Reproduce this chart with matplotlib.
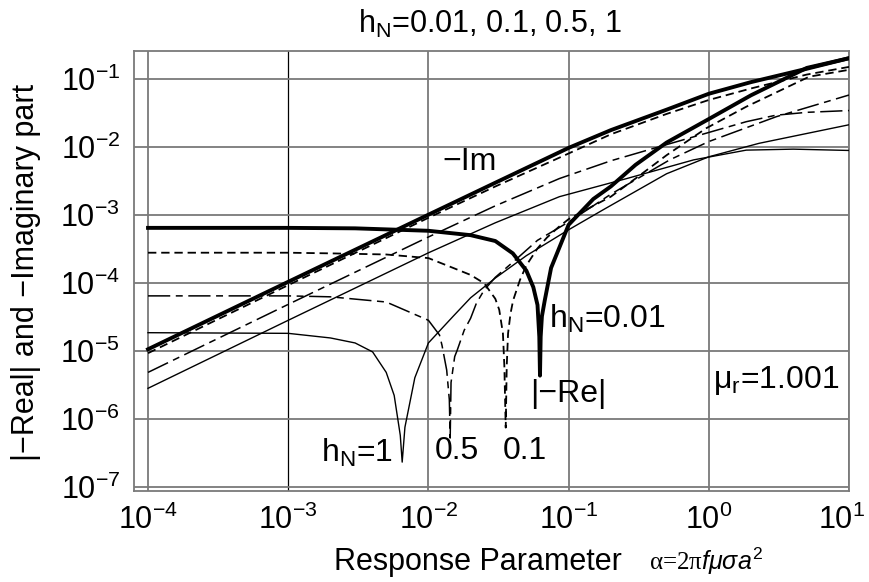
import matplotlib
matplotlib.use('Agg')
import matplotlib.pyplot as plt
from matplotlib.transforms import ScaledTranslation

plt.rcParams['font.family'] = ['Liberation Sans', 'DejaVu Sans']
plt.rcParams['mathtext.fontset'] = 'custom'
plt.rcParams['mathtext.rm'] = 'Liberation Sans'
plt.rcParams['mathtext.it'] = 'Liberation Sans:italic'
plt.rcParams['mathtext.default'] = 'regular'
plt.rcParams['lines.scale_dashes'] = False

# ---------------- data ----------------
# hN = 0.01  (thick solid)
a_im_001 = [1e-4, 1e-3, 1e-2, 0.03, 0.1, 0.2, 0.5, 1.0, 2.0, 5.0, 10.0]
im_001 = [1.05e-5, 1.03e-4, 1.0e-3, 2.95e-3, 9.6e-3, 0.0175, 0.035, 0.060, 0.089, 0.14, 0.20]
a_re_001 = [1e-4, 1e-3, 3e-3, 1e-2, 0.02, 0.03, 0.04, 0.05, 0.056, 0.06, 0.0618, 0.0625,
            0.0632, 0.0645, 0.0676, 0.075, 0.1, 0.15, 0.2, 0.3, 0.5, 1.0, 2.0, 5.0, 10.0]
re_001 = [6.4e-4, 6.4e-4, 6.3e-4, 5.8e-4, 5.0e-4, 4.1e-4, 2.7e-4, 1.5e-4, 8.6e-5, 4.7e-5, 1.6e-5, 4.3e-6,
          1.6e-5, 3.2e-5, 5.5e-5, 1.65e-4, 7.1e-4, 1.7e-3, 2.6e-3, 5.4e-3, 0.0115, 0.0255, 0.057, 0.144, 0.20]

# hN = 0.1  (short dashes)
a_im_01 = [1e-4, 1e-3, 1e-2, 0.03, 0.086, 0.2, 0.5, 1.0, 2.0, 5.0, 10.0]
im_01 = [9.2e-6, 9.2e-5, 9.0e-4, 2.6e-3, 6.9e-3, 0.0152, 0.0303, 0.0486, 0.0718, 0.115, 0.149]
a_re_01 = [1e-4, 1e-3, 2e-3, 5e-3, 1e-2, 0.015, 0.02, 0.025, 0.03, 0.032, 0.034, 0.0348, 0.0356,
           0.0362, 0.037, 0.0385, 0.0402, 0.045, 0.05, 0.06, 0.07, 0.085, 0.1, 0.15, 0.2, 0.3, 0.5,
           0.96, 1.85, 5.2, 10.0]
re_01 = [2.76e-4, 2.76e-4, 2.7e-4, 2.6e-4, 2.3e-4, 1.65e-4, 1.3e-4, 9.8e-5, 5.8e-5, 4.0e-5, 1.8e-5, 6e-6, 7.4e-7,
         6e-6, 1.8e-5, 3.5e-5, 5.5e-5, 1.1e-4, 1.8e-4, 3.2e-4, 4.6e-4, 6.6e-4, 8.6e-4, 1.35e-3, 1.84e-3, 3.4e-3, 7.5e-3,
         0.0187, 0.0387, 0.107, 0.135]

# hN = 0.5  (long dash - short dash)
a_im_05 = [1e-4, 1e-3, 1e-2, 0.03, 0.086, 0.2, 0.444, 0.96, 1.85, 3.0, 5.0, 10.0]
im_05 = [4.8e-6, 4.8e-5, 4.7e-4, 1.35e-3, 3.4e-3, 6.2e-3, 0.0100, 0.0158, 0.0233, 0.029, 0.032, 0.034]
a_re_05 = [1e-4, 1e-3, 2e-3, 5e-3, 0.01, 0.012, 0.0125, 0.0135, 0.0141, 0.0143, 0.0145, 0.0154, 0.016,
           0.018, 0.02, 0.022, 0.025, 0.03, 0.04, 0.06, 0.1, 0.2, 0.526, 1.0, 3.03, 10.0]
re_05 = [6.4e-5, 6.4e-5, 6.2e-5, 5.2e-5, 2.8e-5, 1.7e-5, 1.2e-5, 5.2e-6, 1.9e-6, 5.2e-7, 3.4e-6, 8.2e-6, 1.0e-5,
         2.0e-5, 3.0e-5, 5.0e-5, 7.8e-5, 1.2e-4, 2.0e-4, 4.2e-4, 7.8e-4, 2.0e-3, 6.4e-3, 0.0119, 0.0276, 0.0575]

# hN = 1  (thin solid)
a_im_1 = [1e-4, 1e-3, 1e-2, 0.03, 0.086, 0.26, 0.78, 1.85, 4.0, 10.0]
im_1 = [2.8e-6, 2.8e-5, 2.75e-4, 7.6e-4, 1.84e-3, 3.4e-3, 6.4e-3, 8.9e-3, 9.2e-3, 8.8e-3]
a_re_1 = [1e-4, 1e-3, 2e-3, 3e-3, 4e-3, 5e-3, 5.7e-3, 6.3e-3, 6.5e-3, 6.8e-3, 8e-3, 0.01, 0.015, 0.02,
          0.03, 0.05, 0.1, 0.175, 0.5, 1.0, 2.28, 10.0]
re_1 = [1.84e-5, 1.8e-5, 1.54e-5, 1.3e-5, 9.6e-6, 4.8e-6, 2.2e-6, 5.7e-7, 2.3e-7, 7.5e-7, 4.0e-6, 1.3e-5, 3.2e-5, 6.0e-5,
        1.17e-4, 2.5e-4, 6.0e-4, 1.17e-3, 4.0e-3, 7.1e-3, 0.0112, 0.021]

x_ticks = [1e-4, 1e-3, 1e-2, 1e-1, 1e0, 1e1]
x_tick_labels = ['$10^{-4}$', '$10^{-3}$', '$10^{-2}$', '$10^{-1}$', '$10^{0}$', '$10^{1}$']
y_ticks = [1e-7, 1e-6, 1e-5, 1e-4, 1e-3, 1e-2, 1e-1]
y_tick_labels = ['$10^{-7}$', '$10^{-6}$', '$10^{-5}$', '$10^{-4}$', '$10^{-3}$', '$10^{-2}$', '$10^{-1}$']

# ---------------- figure ----------------
fig = plt.figure(figsize=(8.69, 5.82), dpi=100)
ax = fig.add_axes([134 / 869, 1 - 491 / 582, (849 - 134) / 869, (491 - 51) / 582])
ax.set_xscale('log')
ax.set_yscale('log')
ax.set_xlim(10 ** -4.1, 10 ** 1)
ax.set_ylim(10 ** -7.063, 10 ** -0.593)

grid_c = '#7a7a7a'
for xv in x_ticks:
    if xv == 1e-3:
        ax.axvline(xv, color='black', lw=0.9, zorder=1)
    else:
        ax.axvline(xv, color=grid_c, lw=1.3, zorder=1)
for yv in y_ticks:
    ax.axhline(yv, color=grid_c, lw=1.3, zorder=1)

for s in ax.spines.values():
    s.set_color(grid_c)
    s.set_linewidth(1.3)

k = 'black'
dash_01 = (0, (6, 3.5))
dash_05 = (0, (16, 4, 5, 4))
ax.plot(a_re_1, re_1, color=k, lw=1.0, zorder=3)
ax.plot(a_im_1, im_1, color=k, lw=1.0, zorder=3)
ax.plot(a_re_05, re_05, color=k, lw=1.1, ls=dash_05, zorder=3)
ax.plot(a_im_05, im_05, color=k, lw=1.1, ls=dash_05, zorder=3)
ax.plot(a_re_01, re_01, color=k, lw=1.3, ls=dash_01, zorder=3)
ax.plot(a_im_01, im_01, color=k, lw=1.3, ls=dash_01, zorder=3)
ax.plot(a_re_001, re_001, color=k, lw=2.8, zorder=4)
ax.plot(a_im_001, im_001, color=k, lw=2.8, zorder=4)

ax.set_xticks(x_ticks)
ax.set_xticklabels(x_tick_labels)
ax.set_yticks(y_ticks)
ax.set_yticklabels(y_tick_labels)
ax.minorticks_off()
ax.tick_params(length=0, labelsize=22)
ax.tick_params(axis='x', pad=10)
ax.tick_params(axis='y', pad=10)
last = ax.get_xticklabels()[-1]
last.set_transform(last.get_transform() + ScaledTranslation(-7 / 100, 0, fig.dpi_scale_trans))

fs = 23
ax.text(0.0197, 6e-3, '\u2212Im', fontsize=fs, ha='center', va='center')
ax.text(0.19, 2.9e-5, 'h$_\\mathregular{N}$=0.01', fontsize=fs, ha='center', va='center')
ax.text(0.1, 2.3e-6, '|\u2212Re|', fontsize=fs, ha='center', va='center')
ax.text(3.0, 3.7e-6, '$\\mu_\\mathregular{r}$=1.001', fontsize=fs, ha='center', va='center')
ax.text(3.1e-3, 3.1e-7, 'h$_\\mathregular{N}$=1', fontsize=fs, ha='center', va='center')
ax.text(0.0159, 3.35e-7, '0.5', fontsize=fs, ha='center', va='center')
ax.text(0.0486, 3.35e-7, '0.1', fontsize=fs, ha='center', va='center')

fig.text(490 / 869, 1 - 24 / 582, 'h$_\\mathregular{N}$=0.01, 0.1, 0.5, 1', fontsize=22,
         ha='center', va='center')
fig.text(26 / 869, 1 - 272 / 582, '|\u2212Real| and \u2212Imaginary part', fontsize=22,
         ha='center', va='center', rotation=90)
fig.text(478 / 869, 1 - 562 / 582, 'Response Parameter', fontsize=22, ha='center', va='center')
fig.text(706 / 869, 1 - 561 / 582, '\u03b1=2\u03c0$\\it{f\\mu\\sigma a}^2$', fontsize=18,
         ha='center', va='center', family=['Liberation Serif', 'DejaVu Serif'])

fig.savefig('out.png', dpi=100)
